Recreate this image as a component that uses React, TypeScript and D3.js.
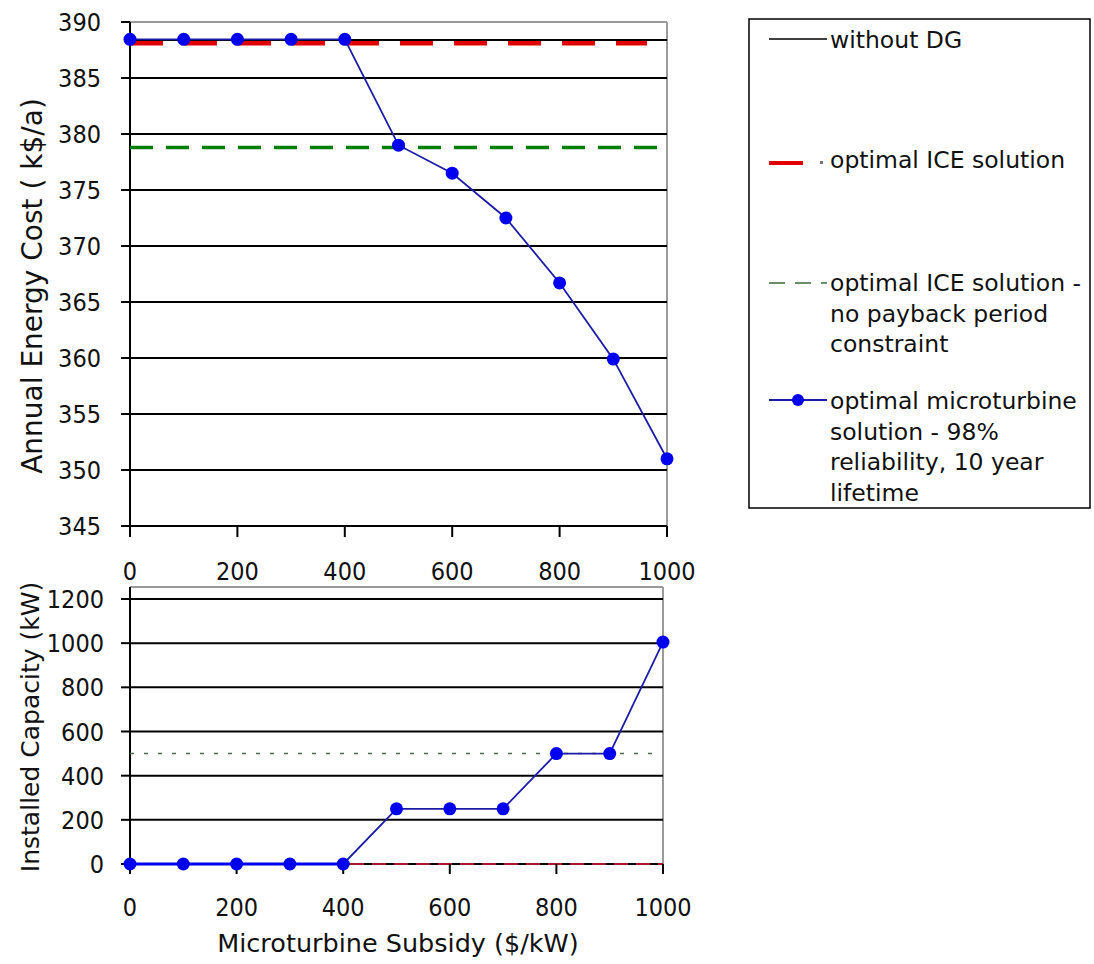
import React from "react";
import * as d3 from "d3";

const subsidy = [0, 100, 200, 300, 400, 500, 600, 700, 800, 900, 1000];
const costMicroturbine = [388.45, 388.45, 388.45, 388.45, 388.45, 379.0, 376.5, 372.5, 366.7, 359.9, 351.0];
const costWithoutDG = 388.4;
const costICE = 388.1;
const costICENoPayback = 378.8;
const capMicroturbine = [0, 0, 0, 0, 0, 250, 250, 250, 500, 500, 1005];
const capWithoutDG = 0;
const capICE = 0;
const capICENoPayback = 500;
const costTicks = [345, 350, 355, 360, 365, 370, 375, 380, 385, 390];
const capTicks = [0, 200, 400, 600, 800, 1000, 1200];
const xTicks = [0, 200, 400, 600, 800, 1000];
const legendItems = [
  { key: "noDG", lines: ["without DG"] },
  { key: "ice", lines: ["optimal ICE solution"] },
  { key: "iceNP", lines: ["optimal ICE solution -", "no payback period", "constraint"] },
  { key: "mt", lines: ["optimal microturbine", "solution - 98%", "reliability, 10 year", "lifetime"] },
];

const FONT = "DejaVu Sans, Verdana, sans-serif";
const TICK_FONT = "DejaVu Sans Condensed, DejaVu Sans, sans-serif";
const BLUE_LINE = "#1c1ca8";
const BLUE_MARK = "#0000f0";

export default function App() {
  // top chart
  const xTop = d3.scaleLinear().domain([0, 1000]).range([130, 667]);
  const yTop = d3.scaleLinear().domain([345, 390]).range([526, 22]);
  // bottom chart
  const xBot = d3.scaleLinear().domain([0, 1000]).range([130, 663]);
  const yBot = d3.scaleLinear().domain([0, 1200]).range([864, 599]);
  const botTop = 587;

  const lineTop = d3.line<number>().x((_, i) => xTop(subsidy[i])).y((d) => yTop(d));
  const lineBot = d3.line<number>().x((_, i) => xBot(subsidy[i])).y((d) => yBot(d));

  const tickFont = 25;

  return (
    <svg
      width={1094}
      height={964}
      style={{ position: "absolute", left: 0, top: 0, background: "#fff" }}
      fontFamily={FONT}
    >
      {/* ===== TOP CHART ===== */}
      <line x1={xTop(0)} x2={xTop(1000)} y1={yTop(390)} y2={yTop(390)} stroke="#9a9a9a" strokeWidth={2} />
      <line x1={xTop(1000)} x2={xTop(1000)} y1={yTop(390)} y2={yTop(345)} stroke="#9a9a9a" strokeWidth={2} />
      {costTicks.filter((t) => t !== 390 && t !== 345).map((t) => (
        <line key={t} x1={xTop(0)} x2={xTop(1000)} y1={yTop(t)} y2={yTop(t)} stroke="#000" strokeWidth={2} />
      ))}
      <line x1={xTop(0)} x2={xTop(1000)} y1={yTop(345)} y2={yTop(345)} stroke="#000" strokeWidth={2} />
      <line x1={xTop(0)} x2={xTop(0)} y1={yTop(390)} y2={yTop(345)} stroke="#000" strokeWidth={2} />
      {costTicks.map((t) => (
        <g key={"yt" + t}>
          <line x1={xTop(0) - 9} x2={xTop(0)} y1={yTop(t)} y2={yTop(t)} stroke="#000" strokeWidth={2} />
          <text x={101} y={yTop(t)} dy="0.36em" textAnchor="end" fontSize={tickFont} fontFamily={TICK_FONT} fill="#111">
            {t}
          </text>
        </g>
      ))}
      {xTicks.map((t) => (
        <g key={"xt" + t}>
          <line x1={xTop(t)} x2={xTop(t)} y1={yTop(345)} y2={yTop(345) + 11} stroke="#000" strokeWidth={2} />
          <text x={xTop(t)} y={571} dy="0.36em" textAnchor="middle" fontSize={tickFont} fontFamily={TICK_FONT} fill="#111">
            {t}
          </text>
        </g>
      ))}
      <line x1={xTop(0)} x2={xTop(1000)} y1={yTop(costWithoutDG)} y2={yTop(costWithoutDG)} stroke="#000" strokeWidth={2} />
      <line
        x1={xTop(0)}
        x2={xTop(1000) - 20}
        y1={yTop(costICE)}
        y2={yTop(costICE)}
        stroke="#e00000"
        strokeWidth={4.5}
        strokeDasharray="33 21"
      />
      <line
        x1={xTop(0)}
        x2={xTop(1000)}
        y1={yTop(costICENoPayback)}
        y2={yTop(costICENoPayback)}
        stroke="#008000"
        strokeWidth={3.5}
        strokeDasharray="23 13"
      />
      <path d={lineTop(costMicroturbine) || ""} fill="none" stroke={BLUE_LINE} strokeWidth={1.8} />
      {costMicroturbine.map((v, i) => (
        <circle key={"m" + i} cx={xTop(subsidy[i])} cy={yTop(v)} r={6.5} fill={BLUE_MARK} />
      ))}
      <text
        transform={`translate(32, 286) rotate(-90)`}
        textAnchor="middle"
        dy="0.36em"
        fontSize={28}
        fill="#111"
      >
        Annual Energy Cost ( k$/a)
      </text>

      {/* ===== BOTTOM CHART ===== */}
      <line x1={xBot(0)} x2={xBot(1000)} y1={botTop} y2={botTop} stroke="#9a9a9a" strokeWidth={2} />
      <line x1={xBot(1000)} x2={xBot(1000)} y1={botTop} y2={yBot(0)} stroke="#9a9a9a" strokeWidth={2} />
      {capTicks.filter((t) => t !== 0).map((t) => (
        <line key={t} x1={xBot(0)} x2={xBot(1000)} y1={yBot(t)} y2={yBot(t)} stroke="#000" strokeWidth={2} />
      ))}
      <line x1={xBot(0)} x2={xBot(0)} y1={botTop} y2={yBot(0)} stroke="#000" strokeWidth={2} />
      <line x1={xBot(0)} x2={xBot(1000)} y1={yBot(capWithoutDG)} y2={yBot(capWithoutDG)} stroke="#000" strokeWidth={2} />
      <line
        x1={xBot(0)}
        x2={xBot(1000)}
        y1={yBot(capICE)}
        y2={yBot(capICE)}
        stroke="#e02040"
        strokeWidth={1.5}
        strokeDasharray="14 8"
      />
      {capTicks.map((t) => (
        <g key={"ybt" + t}>
          <line x1={xBot(0) - 9} x2={xBot(0)} y1={yBot(t)} y2={yBot(t)} stroke="#000" strokeWidth={2} />
          <text x={104} y={yBot(t)} dy="0.36em" textAnchor="end" fontSize={tickFont} fontFamily={TICK_FONT} fill="#111">
            {t}
          </text>
        </g>
      ))}
      {xTicks.map((t) => (
        <g key={"xbt" + t}>
          <line x1={xBot(t)} x2={xBot(t)} y1={yBot(0)} y2={yBot(0) + 10} stroke="#000" strokeWidth={2} />
          <text x={xBot(t)} y={907} dy="0.36em" textAnchor="middle" fontSize={tickFont} fontFamily={TICK_FONT} fill="#111">
            {t}
          </text>
        </g>
      ))}
      <line
        x1={xBot(0)}
        x2={xBot(1000) - 10}
        y1={yBot(capICENoPayback)}
        y2={yBot(capICENoPayback)}
        stroke="#4d6a4d"
        strokeWidth={1.5}
        strokeDasharray="4 10"
      />
      <path d={lineBot(capMicroturbine) || ""} fill="none" stroke={BLUE_LINE} strokeWidth={1.8} />
      <line x1={xBot(0)} x2={xBot(400)} y1={yBot(0)} y2={yBot(0)} stroke={BLUE_MARK} strokeWidth={3} />
      {capMicroturbine.map((v, i) => (
        <circle key={"b" + i} cx={xBot(subsidy[i])} cy={yBot(v)} r={6.5} fill={BLUE_MARK} />
      ))}
      <text
        transform={`translate(30, 727) rotate(-90)`}
        textAnchor="middle"
        dy="0.36em"
        fontSize={25}
        fill="#111"
      >
        Installed Capacity (kW)
      </text>
      <text x={398} y={943} dy="0.36em" textAnchor="middle" fontSize={25.5} fill="#111">
        Microturbine Subsidy ($/kW)
      </text>

      {/* ===== LEGEND ===== */}
      <rect x={749} y={19} width={341} height={489} fill="#fff" stroke="#000" strokeWidth={1.5} />
      <line x1={769} x2={827} y1={39} y2={39} stroke="#000" strokeWidth={1.5} />
      <line x1={769} x2={803} y1={163} y2={163} stroke="#e00000" strokeWidth={4} />
      <rect x={820} y={161} width={3} height={3} fill="#777" />
      <line x1={769} x2={827} y1={283} y2={283} stroke="#3a6a3a" strokeWidth={1.5} strokeDasharray="16 10" />
      <line x1={769} x2={827} y1={400} y2={400} stroke={BLUE_LINE} strokeWidth={1.8} />
      <circle cx={798} cy={400} r={6} fill={BLUE_MARK} />
      {legendItems.map((item, k) => {
        const y0 = [40, 160, 283, 401][k];
        return (
          <text key={item.key} fontSize={23.5} fill="#111">
            {item.lines.map((ln, j) => (
              <tspan key={j} x={830} y={y0 + j * 30.5} dy="0.36em">
                {ln}
              </tspan>
            ))}
          </text>
        );
      })}
    </svg>
  );
}
